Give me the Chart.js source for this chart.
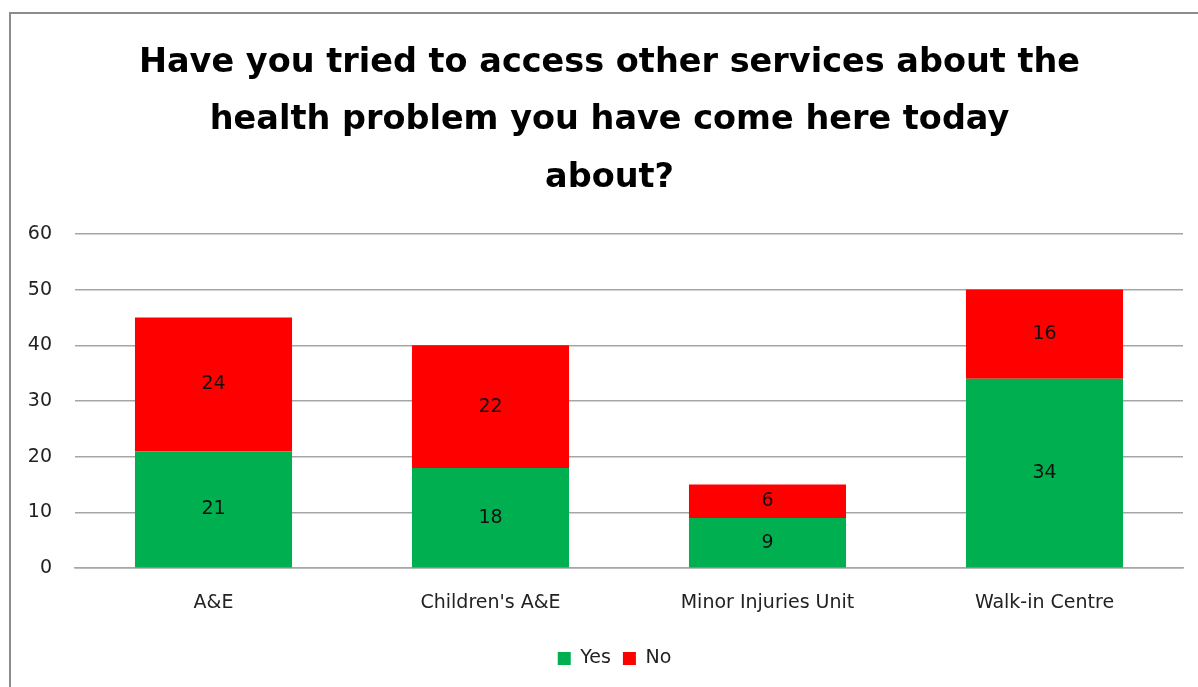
<!DOCTYPE html>
<html>
<head>
<meta charset="utf-8">
<script src="https://cdn.jsdelivr.net/npm/chart.js@4/dist/chart.umd.min.js"></script>
<style>
  html, body { margin: 0; padding: 0; background: #fff; overflow: hidden; }
  #wrap { position: relative; width: 1198px; height: 687px; }
  #frame {
    position: absolute; left: 9px; top: 12px; width: 1300px; height: 800px;
    border-left: 2px solid #8c8c8c; border-top: 2px solid #8c8c8c; pointer-events: none;
  }
  canvas { position: absolute; left: 0; top: 0; }
</style>
</head>
<body>
<div id="wrap">
  <canvas id="chart" width="1198" height="687"></canvas>
  <div id="frame"></div>
</div>
<script>
// Categorías y series
const categories = ['A&E', "Children's A&E", 'Minor Injuries Unit', 'Walk-in Centre'];
const yesValues = [21, 18, 9, 34];
const noValues = [24, 22, 6, 16];
const yTicks = [0, 10, 20, 30, 40, 50, 60];

const FONT = '"DejaVu Sans", sans-serif';

// Dibuja el valor en el centro de cada segmento
const segmentLabels = {
  id: 'segmentLabels',
  afterDatasetsDraw(chart) {
    const ctx = chart.ctx;
    ctx.save();
    ctx.font = '19px ' + FONT;
    ctx.fillStyle = '#111';
    ctx.textAlign = 'center';
    ctx.textBaseline = 'middle';
    chart.data.datasets.forEach((ds, i) => {
      const meta = chart.getDatasetMeta(i);
      meta.data.forEach((bar, j) => {
        const p = bar.getProps(['x', 'y', 'base'], true);
        ctx.fillText(String(ds.data[j]), p.x, (p.y + p.base) / 2);
      });
    });
    ctx.restore();
  }
};

// Desplaza un poco el título y la leyenda hacia la derecha
const nudgeBoxes = {
  id: 'nudgeBoxes',
  afterLayout(chart) {
    if (chart.titleBlock) { chart.titleBlock.left += 5; chart.titleBlock.right += 5; }
    if (chart.legend) { chart.legend.left += 10; chart.legend.right += 10; }
  }
};

new Chart(document.getElementById('chart'), {
  type: 'bar',
  data: {
    labels: categories,
    datasets: [
      { label: 'Yes', data: yesValues, backgroundColor: '#00b050' },
      { label: 'No', data: noValues, backgroundColor: '#ff0000' }
    ]
  },
  options: {
    responsive: false,
    animation: false,
    barPercentage: 0.567,
    categoryPercentage: 1,
    layout: { padding: { left: 26, right: 15, top: 34, bottom: 9 } },
    scales: {
      x: {
        stacked: true,
        grid: { display: false, drawTicks: false },
        border: { color: '#a6a6a6', width: 1.5 },
        ticks: { color: '#222', font: { family: FONT, size: 19 }, padding: 23 }
      },
      y: {
        stacked: true,
        min: 0, max: 60,
        afterBuildTicks: axis => { axis.ticks = yTicks.map(v => ({ value: v })); },
        afterFit: axis => { axis.width = 49; },
        grid: { color: '#a6a6a6', lineWidth: 1.5, drawTicks: false },
        border: { display: false },
        ticks: { color: '#222', font: { family: FONT, size: 19 }, padding: 23 }
      }
    },
    plugins: {
      title: {
        display: true,
        text: [
          'Have you tried to access other services about the',
          'health problem you have come here today',
          'about?'
        ],
        color: '#000',
        font: { family: FONT, size: 33.5, weight: 'bold', lineHeight: 1.72 },
        padding: { top: 0, bottom: 27 }
      },
      legend: {
        position: 'bottom',
        labels: {
          color: '#222',
          font: { family: FONT, size: 19 },
          boxWidth: 13, boxHeight: 13, padding: 12
        }
      },
      tooltip: { enabled: false }
    }
  },
  plugins: [segmentLabels, nudgeBoxes]
});
</script>
</body>
</html>
